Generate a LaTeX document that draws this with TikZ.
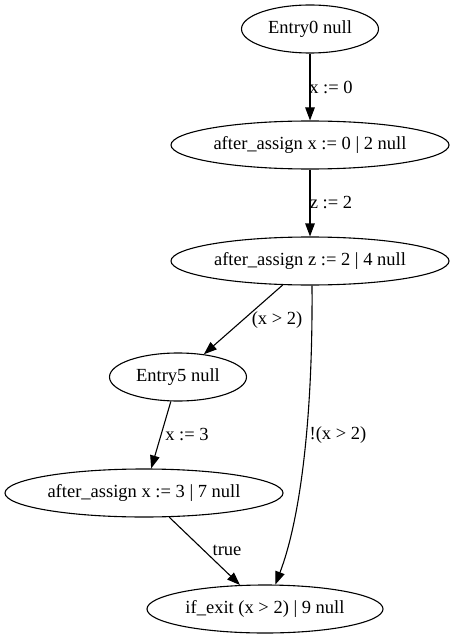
\documentclass[tikz,border=0pt]{standalone}
\usepackage{fontspec}
\setmainfont{Liberation Serif}
\usetikzlibrary{shapes.geometric,arrows.meta}
\begin{document}
\begin{tikzpicture}[x=1pt,y=-1pt,
  gnode/.style={draw,ellipse,inner sep=0pt,minimum height=48pt,line width=1.1pt,font=\fontsize{18.5}{22}\selectfont},
  elabel/.style={inner sep=0pt,font=\fontsize{18.5}{22}\selectfont},
  gedge/.style={line width=1.1pt,-{Triangle[length=13pt,width=9.5pt]}}]
\useasboundingbox (0,0) rectangle (455,639);
\node[gnode,minimum width=137pt] (e0) at (310,29) {Entry0 null};
\node[gnode,minimum width=278pt] (a0) at (310,145) {after\_assign x := 0 | 2 null};
\node[gnode,minimum width=278pt] (az) at (310,261) {after\_assign z := 2 | 4 null};
\node[gnode,minimum width=137pt] (e5) at (178,377) {Entry5 null};
\node[gnode,minimum width=278pt] (a3) at (144,493) {after\_assign x := 3 | 7 null};
\node[gnode,minimum width=236pt] (ie) at (265,609) {if\_exit (x > 2) | 9 null};
\draw[gedge] (e0) -- (a0);
\draw[gedge] (a0) -- (az);
\draw[gedge] (az) -- (e5);
\draw[gedge] ([xshift=2pt]az.south) .. controls (313,420) and (300,520) .. (ie.67);
\draw[gedge] (e5) -- (a3);
\draw[gedge] (a3) -- (ie);
\node[elabel] (l1) at (331,87) {x := 0};
\node[elabel] (l2) at (331,203) {z := 2};
\node[elabel] (l3) at (277,320) {(x > 2)};
\node[elabel] (l4) at (338,435) {!(x > 2)};
\node[elabel] (l5) at (187,435) {x := 3};
\node[elabel] (l6) at (227,550) {true};
\end{tikzpicture}
\end{document}
